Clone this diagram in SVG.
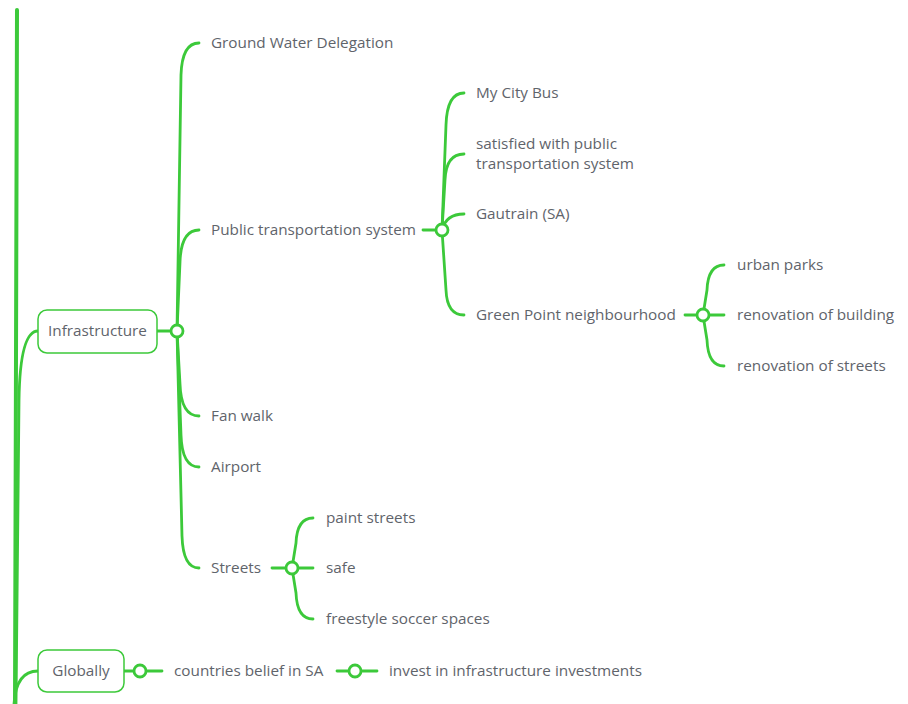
<svg xmlns="http://www.w3.org/2000/svg" width="908" height="704" viewBox="0 0 908 704">
<style>
.c{fill:none;stroke:#3cc93a;stroke-width:2.8;stroke-linecap:round}
.t{stroke-width:4}
.k{fill:#fff;stroke:#3cc93a;stroke-width:2.8}
.b{fill:#fff;stroke:#3cc93a;stroke-width:1.5}
text{font-family:"Open Sans","Liberation Sans",sans-serif;font-size:15.3px;fill:#5f646b;dominant-baseline:central}
</style>
<rect width="908" height="704" fill="#fff"/>
<g id="connectors">
<path class="c t" d="M17,10 L15,704"/>
<path class="c" d="M16,704 L19,400 Q20,331 38,331"/>
<path class="c" d="M14,704 Q16,671 38,671"/>
<path class="c" d="M157,331 L177,331"/>
<path class="c" d="M177,331 L181,75 Q182,43 199,43"/>
<path class="c" d="M177,331 L180,262 Q181,230 199,230"/>
<path class="c" d="M177,331 L180,384 Q181,416 199,416"/>
<path class="c" d="M177,331 L181,435 Q182,467 199,467"/>
<path class="c" d="M177,331 L182,536 Q183,568 199,568"/>
<path class="c" d="M423,230 L442,230"/>
<path class="c" d="M442,230 L446,125 Q447,93 464,93"/>
<path class="c" d="M442,230 L445,180 Q446,154 464,154"/>
<path class="c" d="M442,230 Q446,214 464,214"/>
<path class="c" d="M442,230 L446,290 Q447,315 464,315"/>
<path class="c" d="M685,315 L703,315"/>
<path class="c" d="M703,315 L707,290 Q708,265 724,265"/>
<path class="c" d="M703,315 L724,315"/>
<path class="c" d="M703,315 L707,340 Q708,366 724,366"/>
<path class="c" d="M272,568 L292,568"/>
<path class="c" d="M292,568 L296,543 Q297,518 313,518"/>
<path class="c" d="M292,568 L313,568"/>
<path class="c" d="M292,568 L296,593 Q297,619 313,619"/>
<path class="c" d="M124,671 L162,671"/>
<path class="c" d="M337,671 L377,671"/>
<circle class="k" cx="177" cy="331" r="6"/>
<circle class="k" cx="442" cy="230" r="6"/>
<circle class="k" cx="703" cy="315" r="6"/>
<circle class="k" cx="292" cy="568" r="6"/>
<circle class="k" cx="140" cy="671" r="6"/>
<circle class="k" cx="355" cy="671" r="6"/>
</g>
<g id="infrastructure"><rect class="b" x="38" y="310" width="119" height="43" rx="9"/><text x="97.5" y="330" text-anchor="middle">Infrastructure</text></g>
<g id="globally"><rect class="b" x="38" y="650" width="86" height="42" rx="9"/><text x="81" y="670" text-anchor="middle">Globally</text></g>
<g id="ground-water"><text x="211" y="42">Ground Water Delegation</text></g>
<g id="public-transport"><text x="211" y="229">Public transportation system</text></g>
<g id="fan-walk"><text x="211" y="415">Fan walk</text></g>
<g id="airport"><text x="211" y="466">Airport</text></g>
<g id="streets"><text x="211" y="567">Streets</text></g>
<g id="my-city-bus"><text x="476" y="92">My City Bus</text></g>
<g id="satisfied"><text x="476" y="143">satisfied with public</text><text x="476" y="163">transportation system</text></g>
<g id="gautrain"><text x="476" y="213">Gautrain (SA)</text></g>
<g id="green-point"><text x="476" y="314">Green Point neighbourhood</text></g>
<g id="urban-parks"><text x="737" y="264">urban parks</text></g>
<g id="renovation-building"><text x="737" y="314">renovation of building</text></g>
<g id="renovation-streets"><text x="737" y="365">renovation of streets</text></g>
<g id="paint-streets"><text x="326" y="517">paint streets</text></g>
<g id="safe"><text x="326" y="567">safe</text></g>
<g id="freestyle"><text x="326" y="618">freestyle soccer spaces</text></g>
<g id="countries-belief"><text x="174" y="670">countries belief in SA</text></g>
<g id="invest"><text x="389" y="670">invest in infrastructure investments</text></g>
</svg>
